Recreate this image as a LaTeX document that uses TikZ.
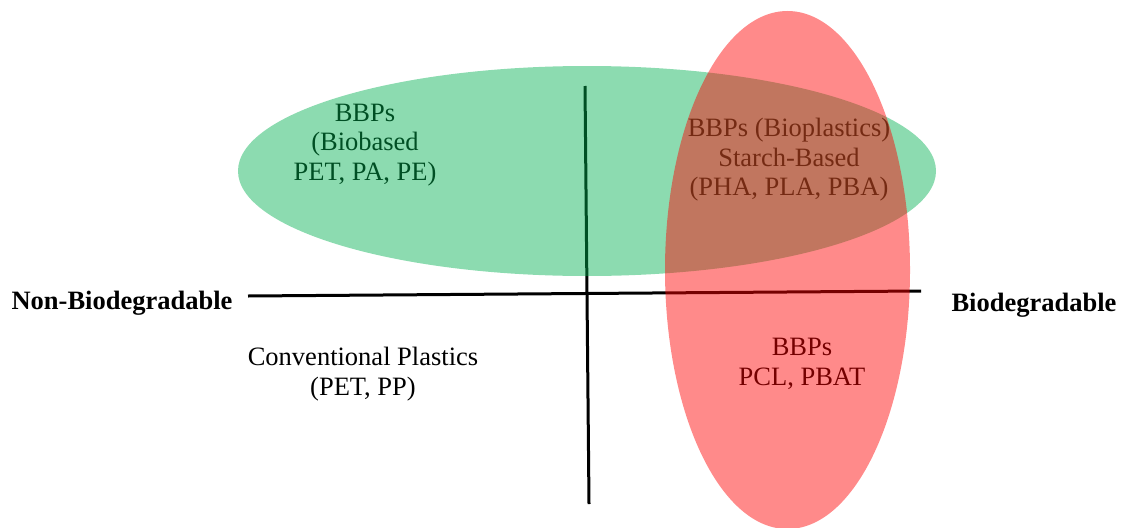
\documentclass[tikz,border=0pt]{standalone}
\usepackage{fontspec}
\setmainfont{Liberation Serif}
\begin{document}
\begin{tikzpicture}[x=1pt,y=-1pt,
  lbl/.style={align=center,font=\fontsize{26.5}{29.5}\selectfont,inner sep=0pt},
  axislbl/.style={font=\fontsize{26.5}{29.5}\selectfont\bfseries,inner sep=0pt},
  axisline/.style={line width=3pt,black}]
\useasboundingbox (0,0) rectangle (1123,527);
\definecolor{gfill}{RGB}{0,176,80}
\definecolor{rfill}{RGB}{255,0,0}
% axes
\coordinate (hl) at (248,296);
\coordinate (hr) at (921,291);
\coordinate (vt) at (585,86);
\coordinate (vb) at (589,504);
\draw[axisline] (hl) -- (hr);
\draw[axisline] (vt) -- (vb);
% labels
\node[axislbl] (nb) at (122,303) {Non-Biodegradable};
\node[axislbl] (bd) at (1034,305) {Biodegradable};
\node[lbl] (g) at (365,145) {BBPs\\(Biobased\\PET, PA, PE)};
\node[lbl] (o) at (789,160) {BBPs (Bioplastics)\\Starch-Based\\(PHA, PLA, PBA)};
\node[lbl] (c) at (363,374) {Conventional Plastics\\(PET, PP)};
\node[lbl] (r) at (802,364) {BBPs\\PCL, PBAT};
% ellipses
\fill[gfill,opacity=0.45] (587,171) ellipse [x radius=349, y radius=105];
\fill[rfill,opacity=0.46] (787.5,270) ellipse [x radius=122.5, y radius=259];
\end{tikzpicture}
\end{document}
